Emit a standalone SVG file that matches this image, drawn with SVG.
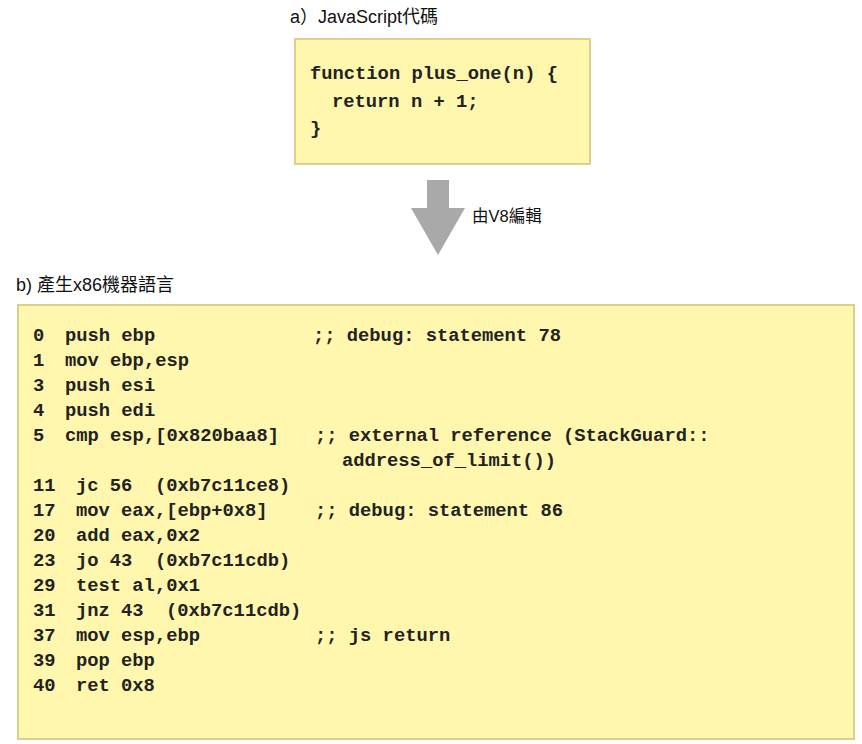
<svg xmlns="http://www.w3.org/2000/svg" width="862" height="744" viewBox="0 0 862 744">
<style>
.box{fill:#fff7ae;stroke:#dbd18e;stroke-width:2}
.code{font-family:"Liberation Mono","Courier New",monospace;font-weight:bold;font-size:18.8px;fill:#222}
.title{font-family:"Liberation Sans","Noto Sans CJK TC",sans-serif;font-size:18px;fill:#111}
.lbl{font-family:"Liberation Sans","Noto Sans CJK TC",sans-serif;font-size:16.5px;fill:#111}
</style>
<g id="js-node">
<text class="title" x="290" y="23">a）JavaScript代碼</text>
<rect class="box" x="295" y="39" width="295" height="125"/>
<text class="code" x="310" y="79">function plus_one(n) {</text>
<text class="code" x="332" y="107">return n + 1;</text>
<text class="code" x="310" y="134">}</text>
</g>
<g id="connectors">
<polygon points="427,180 449,180 449,208 465,208 438,255 411,208 427,208" fill="#a9a9a9"/>
<text class="lbl" x="472" y="222">由V8編輯</text>
</g>
<g id="x86-node">
<text class="title" x="16" y="291">b) 產生x86機器語言</text>
<rect class="box" x="18" y="305" width="836" height="434"/>
<g class="code">
<text x="33" y="341">0</text><text x="65" y="341">push ebp</text><text x="313" y="341">;; debug: statement 78</text>
<text x="33" y="366">1</text><text x="65" y="366">mov ebp,esp</text>
<text x="33" y="391">3</text><text x="65" y="391">push esi</text>
<text x="33" y="416">4</text><text x="65" y="416">push edi</text>
<text x="33" y="441">5</text><text x="65" y="441">cmp esp,[0x820baa8]</text><text x="315" y="441">;; external reference (StackGuard::</text>
<text x="342" y="466">address_of_limit())</text>
<text x="33" y="491">11</text><text x="76" y="491">jc 56</text><text x="155" y="491">(0xb7c11ce8)</text>
<text x="33" y="516">17</text><text x="76" y="516">mov eax,[ebp+0x8]</text><text x="315" y="516">;; debug: statement 86</text>
<text x="33" y="541">20</text><text x="76" y="541">add eax,0x2</text>
<text x="33" y="566">23</text><text x="76" y="566">jo 43</text><text x="155" y="566">(0xb7c11cdb)</text>
<text x="33" y="591">29</text><text x="76" y="591">test al,0x1</text>
<text x="33" y="616">31</text><text x="76" y="616">jnz 43</text><text x="166" y="616">(0xb7c11cdb)</text>
<text x="33" y="641">37</text><text x="76" y="641">mov esp,ebp</text><text x="315" y="641">;; js return</text>
<text x="33" y="666">39</text><text x="76" y="666">pop ebp</text>
<text x="33" y="691">40</text><text x="76" y="691">ret 0x8</text>
</g>
</g>
</svg>
